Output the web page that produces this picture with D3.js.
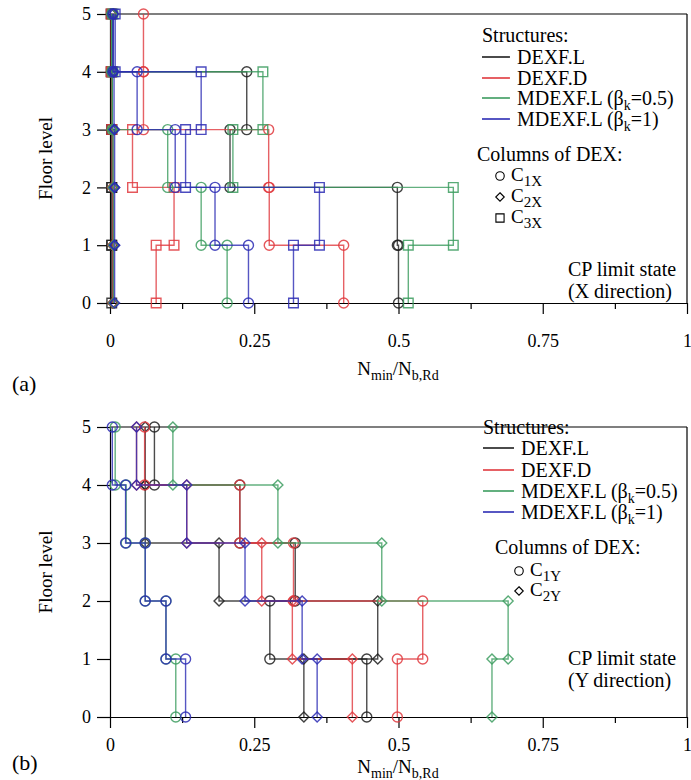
<!DOCTYPE html>
<html>
<head>
<meta charset="utf-8">
<script src="https://cdn.jsdelivr.net/npm/d3@7"></script>
<style>
  body { margin: 0; background: #fff; }
  svg text { font-family: "Liberation Serif", "Times New Roman", Times, "DejaVu Serif", serif; fill: #000; }
</style>
</head>
<body>
<div id="chart"></div>
<script>
// Data
// =================================
var floors = [0, 1, 2, 3, 4, 5];
var xTicks = [0, 0.25, 0.5, 0.75, 1];
var xMinorTicks = [0.125, 0.375, 0.625, 0.875];
var structures = ["DEXF.L", "DEXF.D", "MDEXF.L (β|k|=0.5)", "MDEXF.L (β|k|=1)"];

// (a) X direction - N_min/N_b,Rd per storey (storey 1..5)
// C1X (circles)
var c1xDexfL  = [0.500, 0.498, 0.208, 0.237, 0.003];
var c1xDexfD  = [0.405, 0.276, 0.275, 0.058, 0.058];
var c1xMdex05 = [0.203, 0.158, 0.100, 0.004, 0.003];
var c1xMdex1  = [0.240, 0.182, 0.113, 0.047, 0.005];
// C2X (diamonds)
var c2xDexfL  = [0.005, 0.005, 0.005, 0.004, 0.003];
var c2xDexfD  = [0.005, 0.005, 0.004, 0.004, 0.003];
var c2xMdex05 = [0.006, 0.006, 0.005, 0.004, 0.003];
var c2xMdex1  = [0.008, 0.008, 0.008, 0.007, 0.006];
// C3X (squares)
var c3xDexfL  = [0.003, 0.003, 0.003, 0.003, 0.002];
var c3xDexfD  = [0.080, 0.111, 0.039, 0.003, 0.002];
var c3xMdex05 = [0.517, 0.595, 0.213, 0.265, 0.005];
var c3xMdex1  = [0.318, 0.363, 0.131, 0.158, 0.009];

// (b) Y direction
// C1Y (circles)
var c1yDexfL  = [0.445, 0.277, 0.321, 0.225, 0.077];
var c1yDexfD  = [0.498, 0.542, 0.318, 0.225, 0.060];
var c1yMdex05 = [0.114, 0.097, 0.061, 0.028, 0.009];
var c1yMdex1  = [0.131, 0.097, 0.061, 0.027, 0.004];
// C2Y (diamonds)
var c2yDexfL  = [0.336, 0.464, 0.189, 0.061, 0.061];
var c2yDexfD  = [0.420, 0.316, 0.263, 0.133, 0.046];
var c2yMdex05 = [0.662, 0.690, 0.471, 0.291, 0.109];
var c2yMdex1  = [0.359, 0.333, 0.234, 0.133, 0.046];

var structColors = ["#1e1e1e", "#e0393e", "#3c9c5f", "#2c2cb4"];
var serif = "'Liberation Serif', 'Times New Roman', Times, 'DejaVu Serif', serif";

// Set up the svg
// =================================
var svgWidth = 691;
var svgHeight = 780;

var svg = d3.select("#chart")
  .append("svg")
  .attr("width", svgWidth)
  .attr("height", svgHeight)
  .attr("font-family", serif);

var symbolPath = {
  circle: d3.symbol().type(d3.symbolCircle).size(Math.PI * 5 * 5),
  diamond: function() {
    var r = 5;
    return "M0," + (-r) + "L" + r + ",0L0," + r + "L" + (-r) + ",0Z";
  },
  square: function() {
    var h = 4.8;
    return "M" + (-h) + "," + (-h) + "h" + (2 * h) + "v" + (2 * h) + "h" + (-2 * h) + "Z";
  }
};

function addSubText(sel, parts, size, subSize) {
  // parts: array of [text, isSub]
  var prevSub = false;
  parts.forEach(function(p) {
    var t = sel.append("tspan").text(p[0]).attr("font-size", p[1] ? subSize : size);
    if (p[1] && !prevSub) t.attr("dy", 5);
    if (!p[1] && prevSub) t.attr("dy", -5);
    prevSub = p[1];
  });
}

function structParts(name) {
  var bits = name.split("|");
  var parts = [];
  bits.forEach(function(b, i) { if (b) parts.push([b, i % 2 === 1]); });
  return parts;
}

function drawPanel(cfg) {
  var top = cfg.top;
  var bottom = cfg.bottom;
  var g = svg.append("g");

  var xScale = d3.scaleLinear().domain([0, 1]).range([110, 687]);
  var yScale = d3.scaleLinear().domain([0, 5]).range([bottom, top]);

  // frame (top and right)
  g.append("line").attr("x1", 110).attr("x2", 687).attr("y1", top).attr("y2", top)
    .attr("stroke", "#000").attr("stroke-width", 1.2);
  g.append("line").attr("x1", 687).attr("x2", 687).attr("y1", top).attr("y2", bottom)
    .attr("stroke", "#000").attr("stroke-width", 1.2);

  // y axis
  var leftAxis = d3.axisLeft(yScale).tickValues(floors).tickSize(13).tickSizeOuter(0)
    .tickPadding(6).tickFormat(d3.format("d"));
  var yAx = g.append("g").attr("transform", "translate(110,0)").call(leftAxis);
  yAx.attr("font-family", serif);
  yAx.selectAll("text").attr("font-size", 18);

  // x axis
  var bottomAxis = d3.axisBottom(xScale).tickValues(xTicks).tickSize(11).tickSizeOuter(0)
    .tickPadding(cfg.tickPad).tickFormat(function(d) { return d3.format("")(d); });
  var xAx = g.append("g").attr("transform", "translate(0," + bottom + ")").call(bottomAxis);
  xAx.attr("font-family", serif);
  xAx.selectAll("text").attr("font-size", 18);
  var minorAxis = d3.axisBottom(xScale).tickValues(xMinorTicks).tickSize(6).tickSizeOuter(0)
    .tickFormat("");
  var mAx = g.append("g").attr("transform", "translate(0," + bottom + ")").call(minorAxis);
  mAx.select(".domain").remove();
  g.selectAll(".domain, .tick line").attr("stroke", "#000").attr("stroke-width", 1.2);

  // axis titles
  g.append("text")
    .attr("transform", "translate(52," + yScale(2.5) + ") rotate(-90)")
    .attr("text-anchor", "middle")
    .attr("font-size", 19)
    .text("Floor level");

  var xt = g.append("text")
    .attr("x", 398).attr("y", cfg.titleY)
    .attr("text-anchor", "middle");
  addSubText(xt, [["N", false], ["min", true], ["/N", false], ["b,Rd", true]], 19, 14);

  g.append("text").attr("x", 12).attr("y", cfg.labelY)
    .attr("font-size", 22).text(cfg.label);

  // series
  var line = d3.line()
    .x(function(d) { return xScale(d[0]); })
    .y(function(d) { return yScale(d[1]); });

  cfg.series.forEach(function(s) {
    var pts = [];
    s.values.forEach(function(v, i) {
      pts.push([v, i]);
      pts.push([v, i + 1]);
    });
    g.append("path")
      .attr("d", line(pts))
      .attr("fill", "none")
      .attr("stroke", structColors[s.struct])
      .attr("stroke-opacity", 0.8)
      .attr("stroke-width", 1.4);
    g.selectAll(null)
      .data(pts)
      .enter()
      .append("path")
      .attr("transform", function(d) { return "translate(" + xScale(d[0]) + "," + yScale(d[1]) + ")"; })
      .attr("d", symbolPath[s.shape])
      .attr("fill", "none")
      .attr("stroke", structColors[s.struct])
      .attr("stroke-opacity", 0.85)
      .attr("stroke-width", 1.4);
  });

  // legend
  var lg = cfg.legend;
  g.append("text").attr("x", lg.sx).attr("y", lg.structY + 6.5).attr("font-size", 20).text("Structures:");
  structures.forEach(function(name, i) {
    var cy = lg.rowY[i];
    g.append("line")
      .attr("x1", lg.sx).attr("x2", lg.sx + lg.lineLen)
      .attr("y1", cy).attr("y2", cy)
      .attr("stroke", structColors[i]).attr("stroke-width", 1.6);
    var t = g.append("text").attr("x", lg.sx + lg.lineLen + 7).attr("y", cy + 6.5);
    addSubText(t, structParts(name), 20, 14);
  });
  g.append("text").attr("x", lg.cx).attr("y", lg.colsY + 6).attr("font-size", 20).text("Columns of DEX:");
  cfg.columns.forEach(function(c, i) {
    var cy = lg.colY[i];
    g.append("path")
      .attr("transform", "translate(" + lg.mx + "," + cy + ") scale(0.85)")
      .attr("d", symbolPath[c.shape])
      .attr("fill", "none").attr("stroke", "#000").attr("stroke-width", 1.3);
    var t = g.append("text").attr("x", lg.mx + 11).attr("y", cy + 5);
    addSubText(t, [["C", false], [c.sub, true]], 19, 15);
  });
  g.append("text").attr("x", 568).attr("y", lg.cpY + 6.5).attr("font-size", 20).text("CP limit state");
  g.append("text").attr("x", 568).attr("y", lg.dirY + 6.5).attr("font-size", 20).text(cfg.dirText);
}

// Panel (a)
drawPanel({
  top: 14, bottom: 303, tickPad: 20, titleY: 375, labelY: 391,
  label: "(a)",
  dirText: "(X direction)",
  legend: {
    sx: 482, lineLen: 28, cx: 477, mx: 500,
    structY: 35, rowY: [57, 78, 98, 119], colsY: 155, colY: [176, 197, 218],
    cpY: 269, dirY: 291
  },
  columns: [{ shape: "circle", sub: "1X" }, { shape: "diamond", sub: "2X" }, { shape: "square", sub: "3X" }],
  series: [
    { struct: 0, shape: "circle", values: c1xDexfL },
    { struct: 0, shape: "diamond", values: c2xDexfL },
    { struct: 0, shape: "square", values: c3xDexfL },
    { struct: 1, shape: "circle", values: c1xDexfD },
    { struct: 1, shape: "diamond", values: c2xDexfD },
    { struct: 1, shape: "square", values: c3xDexfD },
    { struct: 2, shape: "circle", values: c1xMdex05 },
    { struct: 2, shape: "diamond", values: c2xMdex05 },
    { struct: 2, shape: "square", values: c3xMdex05 },
    { struct: 3, shape: "circle", values: c1xMdex1 },
    { struct: 3, shape: "diamond", values: c2xMdex1 },
    { struct: 3, shape: "square", values: c3xMdex1 }
  ]
});

// Panel (b)
drawPanel({
  top: 427, bottom: 717, tickPad: 10, titleY: 773, labelY: 770,
  label: "(b)",
  dirText: "(Y direction)",
  legend: {
    sx: 483, lineLen: 31, cx: 495, mx: 519,
    structY: 427, rowY: [448, 470, 491, 512], colsY: 548, colY: [571, 591],
    cpY: 658, dirY: 680
  },
  columns: [{ shape: "circle", sub: "1Y" }, { shape: "diamond", sub: "2Y" }],
  series: [
    { struct: 0, shape: "circle", values: c1yDexfL },
    { struct: 0, shape: "diamond", values: c2yDexfL },
    { struct: 1, shape: "circle", values: c1yDexfD },
    { struct: 1, shape: "diamond", values: c2yDexfD },
    { struct: 2, shape: "circle", values: c1yMdex05 },
    { struct: 2, shape: "diamond", values: c2yMdex05 },
    { struct: 3, shape: "circle", values: c1yMdex1 },
    { struct: 3, shape: "diamond", values: c2yMdex1 }
  ]
});
</script>
</body>
</html>
